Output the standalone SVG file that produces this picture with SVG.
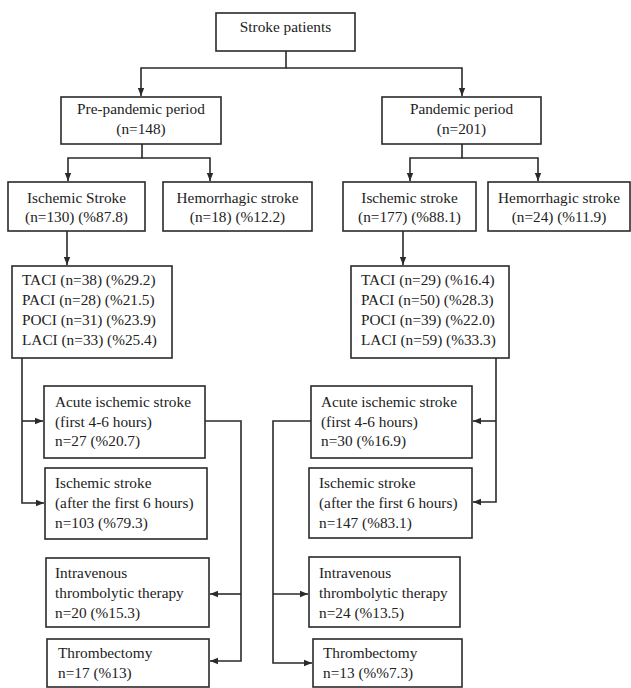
<svg xmlns="http://www.w3.org/2000/svg" width="631" height="688" viewBox="0 0 631 688">
<style>
.box{fill:#fff;stroke:#2a2a2a;stroke-width:1.6}
.t{font-family:"Liberation Serif","Times New Roman",serif;font-size:15.3px;fill:#222}
.c{text-anchor:middle}
.ln{fill:none;stroke:#2a2a2a;stroke-width:1.6}
</style>
<defs>
<marker id="ah" markerUnits="userSpaceOnUse" markerWidth="9" markerHeight="8" refX="8" refY="4" orient="auto">
<path d="M0,0.8 L8,4 L0,7.2 Z" fill="#2a2a2a"/>
</marker>
</defs>
<rect width="631" height="688" fill="#fff"/>
<g id="connectors">
<path class="ln" d="M286,51 V68 H141 V96" marker-end="url(#ah)"/>
<path class="ln" d="M286,68 H462 V96" marker-end="url(#ah)"/>
<path class="ln" d="M142,144 V158 H68 V181" marker-end="url(#ah)"/>
<path class="ln" d="M142,158 H210 V181" marker-end="url(#ah)"/>
<path class="ln" d="M462,144 V158 H410 V181" marker-end="url(#ah)"/>
<path class="ln" d="M462,158 H538 V181" marker-end="url(#ah)"/>
<path class="ln" d="M67,231 V265" marker-end="url(#ah)"/>
<path class="ln" d="M403,231 V265" marker-end="url(#ah)"/>
<path class="ln" d="M22,358 V503 H44" marker-end="url(#ah)"/>
<path class="ln" d="M22,421 H43" marker-end="url(#ah)"/>
<path class="ln" d="M205,421 H241 V661 H210" marker-end="url(#ah)"/>
<path class="ln" d="M241,594 H210" marker-end="url(#ah)"/>
<path class="ln" d="M496,358 V502 H473" marker-end="url(#ah)"/>
<path class="ln" d="M496,421 H473" marker-end="url(#ah)"/>
<path class="ln" d="M311,421 H273 V663 H312" marker-end="url(#ah)"/>
<path class="ln" d="M273,594 H308" marker-end="url(#ah)"/>
</g>
<g id="stroke-patients">
<rect class="box" x="216" y="13" width="139" height="38"/>
<text class="t c" x="285.5" y="32">Stroke patients</text>
</g>
<g id="pre-pandemic">
<rect class="box" x="61" y="97" width="160" height="47"/>
<text class="t c" x="141" y="114">Pre-pandemic period</text>
<text class="t c" x="141" y="134">(n=148)</text>
</g>
<g id="pandemic">
<rect class="box" x="382" y="97" width="159" height="47"/>
<text class="t c" x="461.5" y="114">Pandemic period</text>
<text class="t c" x="461.5" y="134">(n=201)</text>
</g>
<g id="pre-ischemic">
<rect class="box" x="8" y="182" width="137" height="49"/>
<text class="t c" x="76.5" y="203">Ischemic Stroke</text>
<text class="t c" x="76.5" y="222">(n=130) (%87.8)</text>
</g>
<g id="pre-hemorrhagic">
<rect class="box" x="163" y="182" width="149" height="49"/>
<text class="t c" x="237.5" y="203">Hemorrhagic stroke</text>
<text class="t c" x="237.5" y="222">(n=18) (%12.2)</text>
</g>
<g id="pan-ischemic">
<rect class="box" x="343" y="182" width="133" height="49"/>
<text class="t c" x="409.5" y="203">Ischemic stroke</text>
<text class="t c" x="409.5" y="222">(n=177) (%88.1)</text>
</g>
<g id="pan-hemorrhagic">
<rect class="box" x="488" y="182" width="142" height="49"/>
<text class="t c" x="559" y="203">Hemorrhagic stroke</text>
<text class="t c" x="559" y="222">(n=24) (%11.9)</text>
</g>
<g id="pre-subtypes">
<rect class="box" x="12" y="266" width="160" height="92"/>
<text class="t" x="22" y="285">TACI (n=38) (%29.2)</text>
<text class="t" x="22" y="305">PACI (n=28) (%21.5)</text>
<text class="t" x="22" y="325">POCI (n=31) (%23.9)</text>
<text class="t" x="22" y="345">LACI (n=33) (%25.4)</text>
</g>
<g id="pan-subtypes">
<rect class="box" x="351" y="266" width="158" height="92"/>
<text class="t" x="361" y="285">TACI (n=29) (%16.4)</text>
<text class="t" x="361" y="305">PACI (n=50) (%28.3)</text>
<text class="t" x="361" y="325">POCI (n=39) (%22.0)</text>
<text class="t" x="361" y="345">LACI (n=59) (%33.3)</text>
</g>
<g id="pre-acute">
<rect class="box" x="44" y="386" width="161" height="72"/>
<text class="t" x="55" y="407">Acute ischemic stroke</text>
<text class="t" x="55" y="427">(first 4-6 hours)</text>
<text class="t" x="55" y="446">n=27 (%20.7)</text>
</g>
<g id="pan-acute">
<rect class="box" x="311" y="386" width="161" height="72"/>
<text class="t" x="321" y="407">Acute ischemic stroke</text>
<text class="t" x="321" y="427">(first 4-6 hours)</text>
<text class="t" x="321" y="446">n=30 (%16.9)</text>
</g>
<g id="pre-after">
<rect class="box" x="45" y="468" width="162" height="71"/>
<text class="t" x="55" y="488">Ischemic stroke</text>
<text class="t" x="55" y="508">(after the first 6 hours)</text>
<text class="t" x="55" y="528">n=103 (%79.3)</text>
</g>
<g id="pan-after">
<rect class="box" x="309" y="468" width="163" height="70"/>
<text class="t" x="319" y="488">Ischemic stroke</text>
<text class="t" x="319" y="508">(after the first 6 hours)</text>
<text class="t" x="319" y="528">n=147 (%83.1)</text>
</g>
<g id="pre-iv">
<rect class="box" x="46" y="558" width="163" height="69"/>
<text class="t" x="55" y="578">Intravenous</text>
<text class="t" x="55" y="598">thrombolytic therapy</text>
<text class="t" x="55" y="618">n=20 (%15.3)</text>
</g>
<g id="pan-iv">
<rect class="box" x="309" y="557" width="151" height="70"/>
<text class="t" x="319" y="578">Intravenous</text>
<text class="t" x="319" y="598">thrombolytic therapy</text>
<text class="t" x="319" y="618">n=24 (%13.5)</text>
</g>
<g id="pre-thrombectomy">
<rect class="box" x="47" y="639" width="162" height="48"/>
<text class="t" x="58" y="658">Thrombectomy</text>
<text class="t" x="58" y="678">n=17 (%13)</text>
</g>
<g id="pan-thrombectomy">
<rect class="box" x="313" y="639" width="149" height="48"/>
<text class="t" x="323" y="658">Thrombectomy</text>
<text class="t" x="323" y="678">n=13 (%%7.3)</text>
</g>
</svg>
